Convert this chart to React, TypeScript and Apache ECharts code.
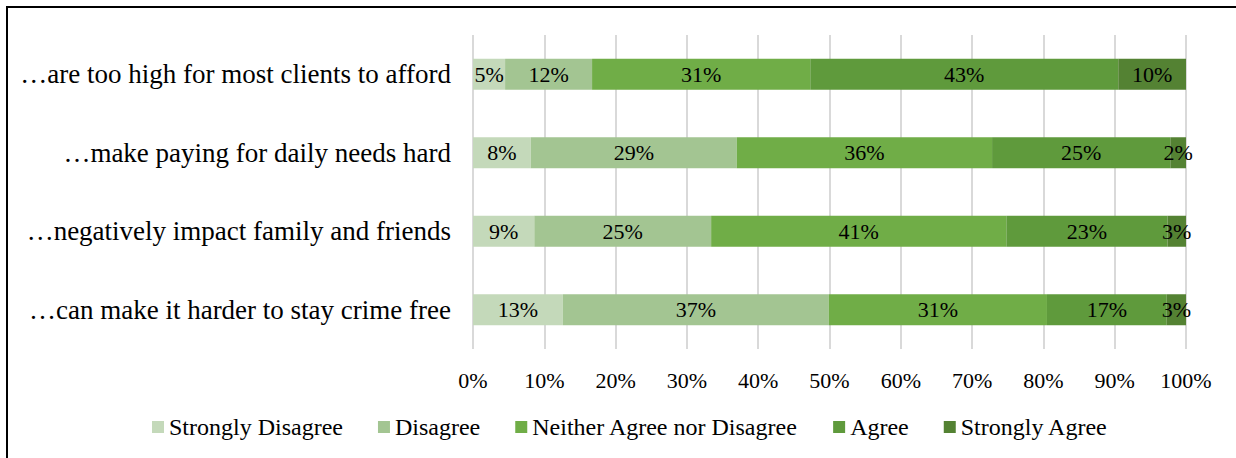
import React, { useEffect, useRef } from "react";
import * as echarts from "echarts";

// Statements, top to bottom
const categories = [
  "…are too high for most clients to afford",
  "…make paying for daily needs hard",
  "…negatively impact family and friends",
  "…can make it harder to stay crime free",
];

const seriesNames = [
  "Strongly Disagree",
  "Disagree",
  "Neither Agree nor Disagree",
  "Agree",
  "Strongly Agree",
];

// Share of responses (%) per statement, same order as categories
const stronglyDisagree = [4.5, 8.1, 8.6, 12.6];
const disagree = [12.2, 28.9, 24.8, 37.3];
const neither = [30.6, 35.8, 41.4, 30.6];
const agree = [43.2, 25.0, 22.6, 16.8];
const stronglyAgree = [9.5, 2.2, 2.7, 2.7];

const xTicks = [0, 10, 20, 30, 40, 50, 60, 70, 80, 90, 100];

const colors = ["#C4D9BA", "#A3C592", "#70AD47", "#5F9A3C", "#548233"];

const FONT = "'Liberation Serif', 'Times New Roman', serif";

export default function App() {
  const ref = useRef<HTMLDivElement>(null);

  useEffect(() => {
    if (!ref.current) return;
    const chart = echarts.init(ref.current, null, { renderer: "svg" });
    const values = [stronglyDisagree, disagree, neither, agree, stronglyAgree];

    chart.setOption({
      animation: false,
      color: colors,
      textStyle: { fontFamily: FONT, color: "#000" },
      graphic: [
        {
          type: "rect",
          shape: { x: 7, y: 7, width: 1300, height: 500 },
          style: { fill: "none", stroke: "#000", lineWidth: 2 },
          silent: true,
        },
      ],
      grid: { left: 473, right: 50, top: 35, bottom: 109 },
      legend: {
        top: 410,
        left: 147,
        itemWidth: 12,
        itemHeight: 12,
        itemGap: 35,
        icon: "rect",
        textStyle: { fontFamily: FONT, fontSize: 24, color: "#000" },
        data: seriesNames,
      },
      xAxis: {
        type: "value",
        min: 0,
        max: 100,
        interval: 10,
        axisLine: { show: false },
        axisTick: { show: false },
        splitLine: { show: true, lineStyle: { color: "#D9D9D9", width: 2 } },
        axisLabel: {
          fontFamily: FONT,
          fontSize: 22,
          color: "#000",
          margin: 20,
          formatter: (v: number) => (xTicks.includes(v) ? `${v}%` : ""),
        },
      },
      yAxis: {
        type: "category",
        inverse: true,
        data: categories,
        axisLine: { show: false },
        axisTick: { show: false },
        axisLabel: { fontFamily: FONT, fontSize: 27, color: "#000", margin: 22 },
      },
      series: seriesNames.map((name, i) => ({
        name,
        type: "bar",
        stack: "total",
        barWidth: 31,
        data: values[i],
        label: {
          show: true,
          position: "inside",
          fontFamily: FONT,
          fontSize: 22,
          color: "#000",
          formatter: (p: any) => `${Math.round(p.value)}%`,
        },
      })),
    });

    return () => chart.dispose();
  }, []);

  return (
    <div
      ref={ref}
      style={{ position: "fixed", left: 0, top: 0, width: 1236, height: 458, background: "#fff" }}
    />
  );
}
